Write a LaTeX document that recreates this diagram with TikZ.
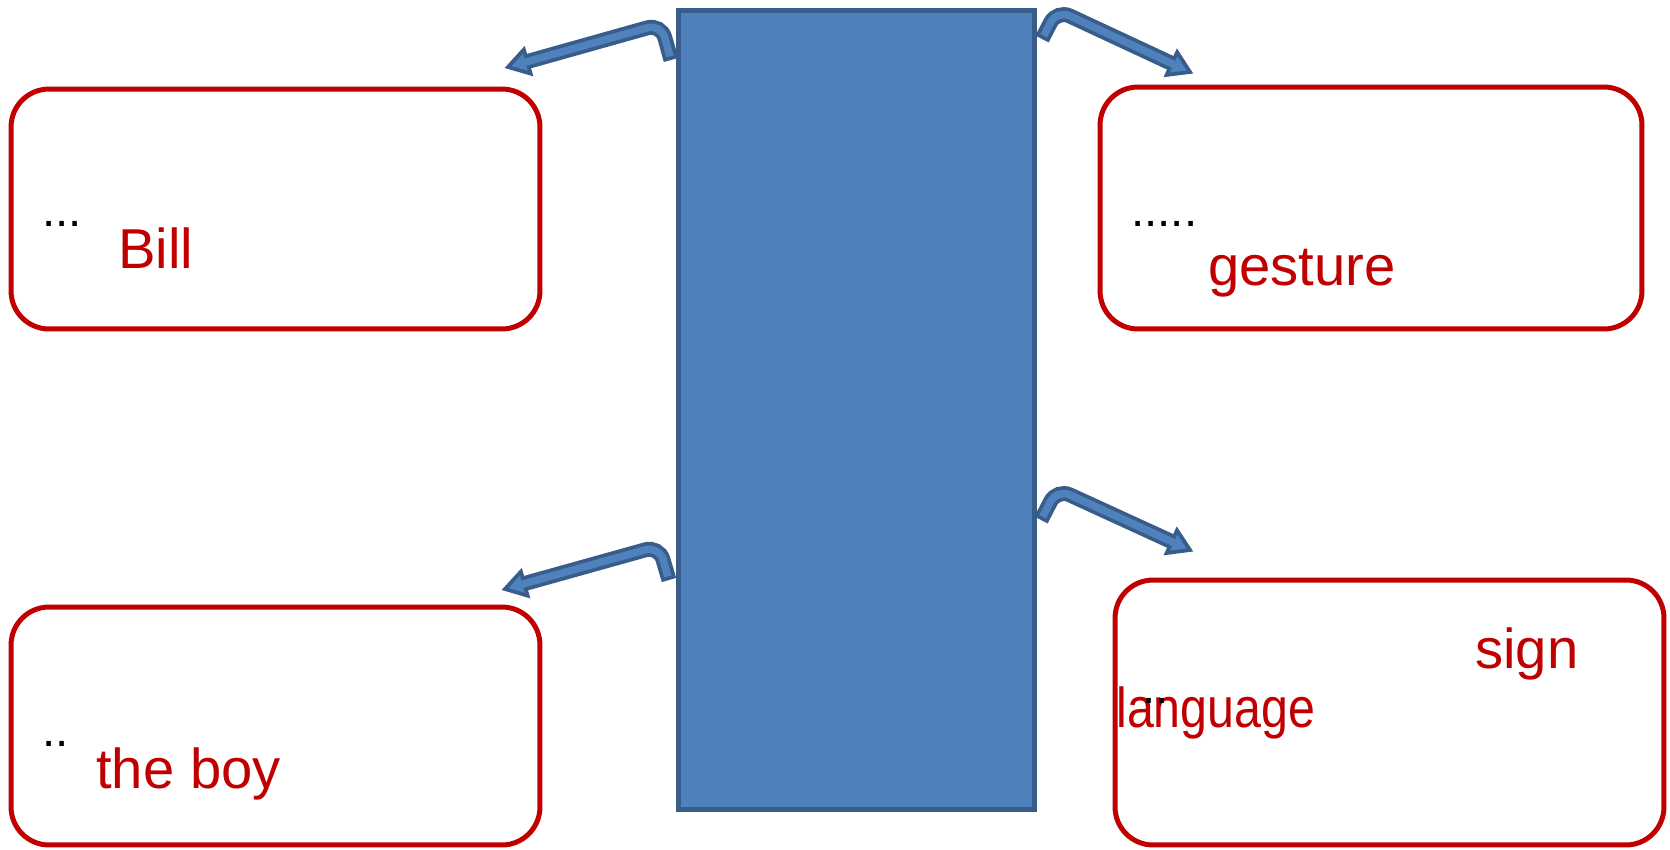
\documentclass[tikz,border=0pt]{standalone}
\usepackage{fontspec}
\setmainfont{Liberation Sans}
\usetikzlibrary{calc}
\definecolor{boxred}{HTML}{C00000}
\definecolor{barfill}{HTML}{4F81BD}
\definecolor{bardark}{HTML}{385D8A}
\tikzset{
  redbox/.style={draw=boxred, line width=0.1cm, rounded corners=0.76cm, fill=white, inner sep=0pt},
  bluebar/.style={draw=bardark, fill=barfill, line width=0.1cm, inner sep=0pt},
  redtext/.style={text=boxred, inner sep=0pt, anchor=base west, font=\fontsize{32}{38}\selectfont},
  dottext/.style={text=black, inner sep=0pt, anchor=base west, font=\fontsize{27}{30}\selectfont},
  shaftout/.style={draw=bardark, line width=0.3cm, rounded corners=0.28cm},
  shaftin/.style={draw=barfill, line width=0.15cm, rounded corners=0.28cm, shorten <=0.075cm},
  headshape/.style={fill=barfill, draw=bardark, line width=0.075cm, line join=miter}
}
\newcommand\bentarr[3]{%
  \coordinate (hb) at ($(#3)!0.40cm!(#2)$);
  \coordinate (hin) at ($(#3)!0.28cm!(#2)$);
  \draw[shaftout] (#1) -- (#2) -- (hb);
  \filldraw[headshape] ($(hb)!0.25cm!90:(#3)$) -- (#3) -- ($(hb)!0.25cm!-90:(#3)$) -- cycle;
  \draw[shaftin] (#1) -- (#2) -- (hin);
}
\begin{document}
\begin{tikzpicture}[x=0.02cm,y=-0.02cm]
\useasboundingbox (0,0) rectangle (1670,849);
% boxes
\node[redbox, minimum width=10.58cm, minimum height=4.8cm] (tl) at (275.5,209) {};
\node[redbox, minimum width=10.58cm, minimum height=4.76cm] (bl) at (275.5,726) {};
\node[redbox, minimum width=10.84cm, minimum height=4.84cm] (tr) at (1371,208) {};
\node[redbox, minimum width=10.98cm, minimum height=5.3cm] (br) at (1389.5,712.5) {};
% arrow coordinates
\coordinate (s1) at (671,60);   \coordinate (b1) at (661,24);   \coordinate (t1) at (508,67);
\coordinate (s2) at (1042,39);  \coordinate (b2) at (1057,10);  \coordinate (t2) at (1190,72);
\coordinate (s3) at (669,580);  \coordinate (b3) at (659,546);  \coordinate (t3) at (505,589);
\coordinate (s4) at (1041,520); \coordinate (b4) at (1057,489); \coordinate (t4) at (1190,550);
\bentarr{s1}{b1}{t1}
\bentarr{s2}{b2}{t2}
\bentarr{s3}{b3}{t3}
\bentarr{s4}{b4}{t4}
% central bar
\node[bluebar, minimum width=7.14cm, minimum height=16cm] (bar) at (856.5,410) {};
% texts
\node[dottext] (d1) at (42,226) {...};
\node[redtext] (bill) at (118,268) {Bill};
\node[dottext] (d2) at (1131,226) {.....};
\node[redtext] (gest) at (1208,285) {gesture};
\node[redtext] (sign) at (1475,668) {sign};
\node[redtext] (lang) at (1116,727) {\scalebox{0.86}[1]{language}};
\node[dottext] (d3) at (1142,703) {..};
\node[dottext] (d4) at (42,746) {..};
\node[redtext] (boy) at (96,788) {the boy};
\end{tikzpicture}
\end{document}
